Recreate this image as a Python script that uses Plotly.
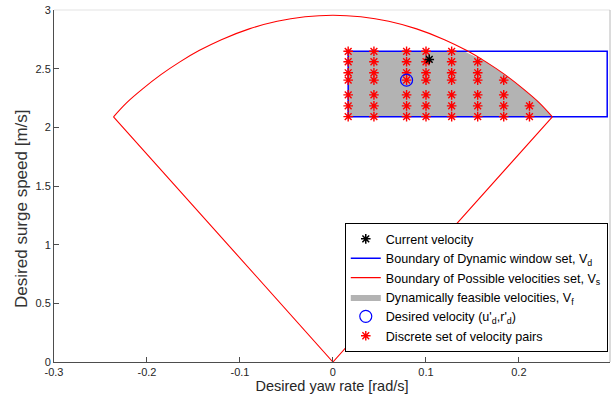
import plotly.graph_objects as go

# ---- data ----
# boundary of possible velocities (arc) : yaw rate [rad/s], surge [m/s]
arc_rate = [-0.236, -0.222, -0.205, -0.185, -0.165, -0.144, -0.12, -0.09, -0.06, -0.03, 0.0,
            0.03, 0.06, 0.09, 0.12, 0.144, 0.165, 0.185, 0.205, 0.222, 0.236]
arc_surge = [2.09, 2.209, 2.326, 2.449, 2.556, 2.654, 2.747, 2.839, 2.904, 2.942, 2.955,
             2.942, 2.904, 2.839, 2.747, 2.654, 2.556, 2.449, 2.326, 2.209, 2.09]
apex_rate = 0.0
apex_surge = 0.0

# dynamic window rectangle
dw_rate = [0.0164, 0.295]
dw_surge = [2.091, 2.648]

# discrete velocity pairs
grid_rate = [0.0164, 0.0441, 0.0792, 0.1001, 0.1277, 0.1557, 0.1837, 0.2114]
grid_surge = [2.648, 2.559, 2.465, 2.402, 2.277, 2.183, 2.091]
rows_per_column = [7, 7, 7, 7, 7, 6, 4, 2]   # counted from the bottom row

current_vel = (0.1036, 2.579)
desired_vel = (0.0792, 2.402)

x_ticks = [-0.3, -0.2, -0.1, 0, 0.1, 0.2]
x_tick_text = ["-0.3", "-0.2", "-0.1", "0", "0.1", "0.2"]
y_ticks = [0, 0.5, 1, 1.5, 2, 2.5, 3]
y_tick_text = ["0", "0.5", "1", "1.5", "2", "2.5", "3"]

# ---- derived geometry ----
rect_x = [dw_rate[0], dw_rate[1], dw_rate[1], dw_rate[0], dw_rate[0]]
rect_y = [dw_surge[0], dw_surge[0], dw_surge[1], dw_surge[1], dw_surge[0]]

arc_right = [(r, s) for r, s in zip(arc_rate, arc_surge) if r >= 0.144]
feas_x = [dw_rate[0], dw_rate[0], 0.141] + [r for r, s in arc_right[1:]] + [dw_rate[0]]
feas_y = [dw_surge[0], dw_surge[1], dw_surge[1]] + [s for r, s in arc_right[1:]] + [dw_surge[0]]

pts_x, pts_y = [], []
rows_bottom_up = grid_surge[::-1]
for cx, n in zip(grid_rate, rows_per_column):
    for s in rows_bottom_up[:n]:
        pts_x.append(cx)
        pts_y.append(s)

RED = "#ff0000"
BLUE = "#0000ff"

fig = go.Figure()

fig.add_trace(go.Scatter(x=feas_x, y=feas_y, mode="lines", fill="toself",
                         fillcolor="#b3b3b3", line=dict(width=0, color="#b3b3b3"),
                         name="Dynamically feasible velocities, V<sub>f</sub>", legendrank=4))
fig.add_trace(go.Scatter(x=rect_x, y=rect_y, mode="lines",
                         line=dict(color=BLUE, width=1.5),
                         name="Boundary of Dynamic window set, V<sub>d</sub>", legendrank=2))
fig.add_trace(go.Scatter(x=arc_rate, y=arc_surge, mode="lines",
                         line=dict(color=RED, width=1.1, shape="spline", smoothing=1.0),
                         name="Boundary of Possible velocities set, V<sub>s</sub>", legendrank=3))
fig.add_trace(go.Scatter(x=[arc_rate[0], apex_rate, arc_rate[-1]],
                         y=[arc_surge[0], apex_surge, arc_surge[-1]], mode="lines",
                         line=dict(color=RED, width=1.1), showlegend=False, hoverinfo="skip"))
fig.add_trace(go.Scatter(x=pts_x, y=pts_y, mode="markers",
                         marker=dict(symbol="asterisk-open", size=8, color=RED,
                                     line=dict(color=RED, width=1.4)),
                         name="Discrete set of velocity pairs", legendrank=6))
fig.add_trace(go.Scatter(x=[desired_vel[0]], y=[desired_vel[1]], mode="markers",
                         marker=dict(symbol="circle-open", size=12, color=BLUE,
                                     line=dict(color=BLUE, width=1.2)),
                         name="Desired velocity (u'<sub>d</sub>,r'<sub>d</sub>)", legendrank=5))
fig.add_trace(go.Scatter(x=[current_vel[0]], y=[current_vel[1]], mode="markers",
                         marker=dict(symbol="asterisk-open", size=8, color="#000000",
                                     line=dict(color="#000000", width=1.5)),
                         name="Current velocity", legendrank=1))

axis_color = "#4d4d4d"
fig.update_xaxes(range=[-0.3, 0.298], tickvals=x_ticks, ticktext=x_tick_text,
                 ticks="inside", ticklen=5, tickcolor=axis_color, showgrid=False,
                 zeroline=False, showline=True, linecolor=axis_color, linewidth=1,
                 tickfont=dict(size=11, color="#262626"),
                 title=dict(text="Desired yaw rate [rad/s]", font=dict(size=14.5, color="#262626"),
                            standoff=3))
fig.update_yaxes(range=[0, 3], tickvals=y_ticks, ticktext=y_tick_text,
                 ticks="inside", ticklen=5, tickcolor=axis_color, showgrid=False,
                 zeroline=False, showline=True, linecolor=axis_color, linewidth=1,
                 tickfont=dict(size=11, color="#262626"))

# y-axis label
fig.add_annotation(text="Desired surge speed [m/s]", xref="paper", yref="paper",
                   x=-0.0575, y=0.435, xanchor="center", yanchor="middle",
                   textangle=-90, showarrow=False, font=dict(size=17, color="#333333"))

# light top and right borders of the axes box
fig.add_shape(type="line", xref="paper", yref="paper", x0=0, x1=1, y0=1, y1=1,
              line=dict(color="#e3e3e3", width=1))
fig.add_shape(type="line", xref="paper", yref="paper", x0=1, x1=1, y0=0, y1=1,
              line=dict(color="#b8b8b8", width=1))

fig.update_layout(
    width=613, height=398,
    margin=dict(l=54, r=3, t=10, b=36),
    paper_bgcolor="white", plot_bgcolor="white",
    font=dict(family="Liberation Sans, Arial, Helvetica, sans-serif", color="#262626"),
    showlegend=True,
    legend=dict(x=0.996, y=0.028, xanchor="right", yanchor="bottom",
                bgcolor="white", bordercolor="#000000", borderwidth=1,
                font=dict(size=12.6, color="#000000"), tracegroupgap=0,
                itemwidth=30),
)

fig.write_html("out.html")
